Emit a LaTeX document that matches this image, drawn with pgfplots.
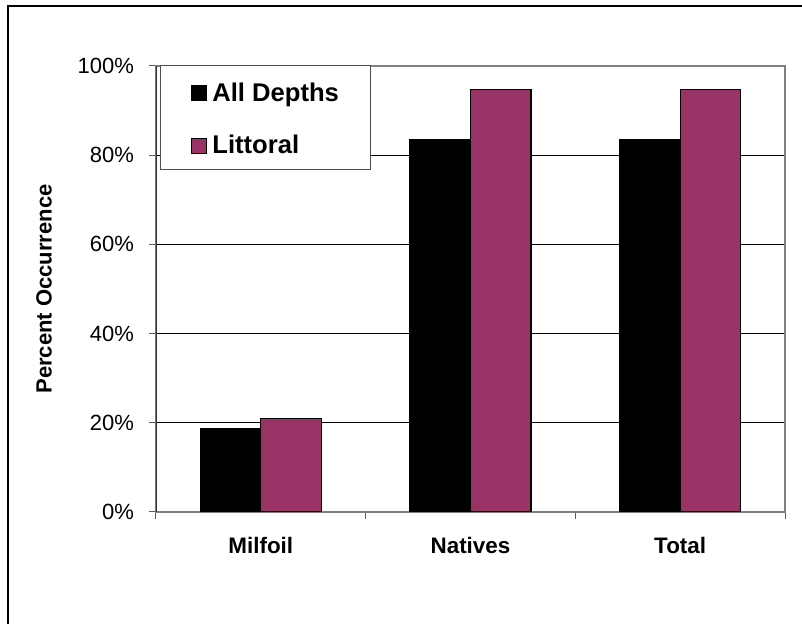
\documentclass[border=0pt]{standalone}
\usepackage{pgfplots}
\pgfplotsset{compat=1.18}
\usepackage{fontspec}
\setmainfont{Liberation Sans}
\definecolor{plum}{HTML}{993366}
\definecolor{axisgray}{HTML}{808080}
\begin{document}
\begin{tikzpicture}[x=1pt,y=1pt]
% page: 802x624 px at 0.5pt per px
\path[use as bounding box] (0,0) rectangle (401,312);
\draw[line width=1pt] (4,0) -- (4,309) -- (401,309);
\begin{axis}[
  at={(78pt,56pt)}, anchor=south west,
  scale only axis, width=314.5pt, height=223pt,
  ybar=0pt, bar width=30.25pt,
  xmin=-0.5, xmax=2.5, ymin=0, ymax=100,
  xtick={0,1,2}, xticklabels={Milfoil,Natives,Total},
  major x tick style={draw=none},
  minor xtick={-0.5,0.5,1.5,2.5},
  minor tick length=3.5pt, major tick length=3.5pt,
  ytick={0,20,40,60,80,100},
  yticklabels={0\%,20\%,40\%,60\%,80\%,100\%},
  tick pos=left, tick align=outside,
  tick style={axisgray!70!black, line width=0.5pt},
  axis line style={axisgray, line width=0.6pt},
  ymajorgrids, grid style={black, line width=0.5pt},
  yticklabel style={font=\fontsize{11}{13}\selectfont, xshift=-4pt},
  xticklabel style={font=\bfseries\fontsize{11.2}{13}\selectfont, yshift=-5.5pt},
  ylabel={Percent Occurrence},
  ylabel style={font=\bfseries\fontsize{11}{13}\selectfont, at={(axis description cs:-0.178,0.5)}, anchor=center},
  legend style={draw=none, fill=none, at={(axis description cs:0.0556,0.972)}, anchor=north west,
    inner sep=0pt, row sep=11.5pt, column sep=0.5pt, font=\bfseries\fontsize{12.8}{15}\selectfont},
  legend cell align=left,
  sq/.style={legend image code/.code={\draw[##1, draw=black, line width=0.5pt] (0pt,-3.5pt) rectangle (7.5pt,4pt);}},
]
\addplot[fill=black, draw=black, line width=0.6pt, sq] coordinates {(0,18.8) (1,83.6) (2,83.6)};
\addplot[fill=plum, draw=black, line width=0.6pt, sq] coordinates {(0,20.9) (1,94.8) (2,94.8)};
\filldraw[fill=white, draw=axisgray!60!black, line width=0.5pt] (axis description cs:0.00636,1) rectangle (axis description cs:0.3418,0.769);
\draw[axisgray!40!black, line width=0.8pt] (axis description cs:0,0) -- (axis description cs:0,1);
\legend{All Depths, Littoral}
\end{axis}
\end{tikzpicture}
\end{document}
